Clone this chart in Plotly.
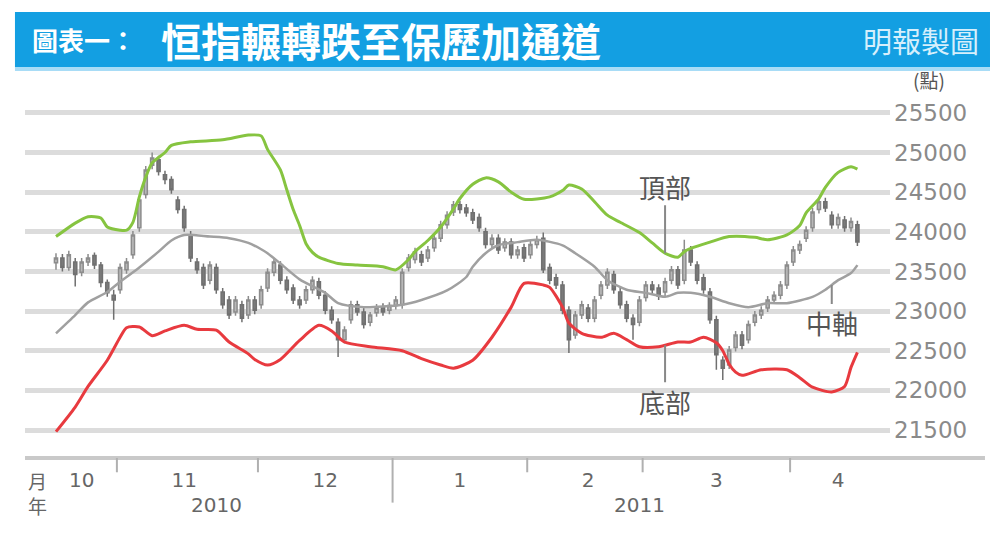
import pandas as pd
import plotly.graph_objects as go

# ---------------- data ----------------
holidays = ["2010-12-27", "2010-12-28", "2011-02-03", "2011-02-04", "2011-04-05"]
dates = [d for d in pd.bdate_range("2010-10-18", "2011-04-18").strftime("%Y-%m-%d") if d not in holidays]

c_open = [23610, 23670, 23550, 23620, 23490, 23620, 23700, 23580, 23360, 23200,
          23270, 23520, 23710, 24050, 24470, 24840, 24910, 24720, 24660, 24400,
          24280, 23960, 23620, 23550, 23390, 23550, 23240, 23140, 22990, 23080,
          22950, 23140, 23080, 23290, 23490, 23580, 23390, 23290, 23140, 23140,
          23270, 23370, 23200, 23010, 22860, 22640, 22890, 23080, 22990, 22860,
          22980, 23050, 23010, 23070, 23080, 23550, 23650, 23710, 23670, 23800,
          23920, 24090, 24250, 24340, 24300, 24240, 24180, 24000, 23840, 23920,
          23800, 23870, 23710, 23800, 23710, 23840, 23920, 23550, 23420, 23330,
          23010, 22700, 22950, 23040, 22910, 23200, 23330, 23460, 23240, 23080,
          22910, 22860, 23170, 23330, 23290, 23240, 23390, 23520, 23390, 23770,
          23580, 23420, 23240, 22890, 22380, 22320, 22540, 22700, 22640, 22860,
          22950, 23040, 23140, 23200, 23330, 23620, 23770, 23920, 24050, 24280,
          24380, 24210, 24090, 24150, 24050, 24090]
c_high = [23730, 23720, 23760, 23670, 23670, 23720, 23740, 23620, 23400, 23270,
          23600, 23670, 24010, 24450, 24830, 25000, 24960, 24770, 24700, 24450,
          24330, 24010, 23670, 23600, 23630, 23600, 23290, 23190, 23190, 23130,
          23190, 23190, 23320, 23540, 23670, 23630, 23440, 23340, 23190, 23320,
          23440, 23420, 23250, 23060, 22910, 22810, 23130, 23130, 23040, 22990,
          23090, 23100, 23110, 23190, 23540, 23720, 23800, 23760, 23820, 23970,
          24140, 24260, 24390, 24390, 24350, 24290, 24230, 24050, 23970, 23970,
          23920, 23920, 23820, 23850, 23890, 23950, 23990, 23600, 23470, 23380,
          23060, 23000, 23130, 23090, 23190, 23380, 23540, 23510, 23290, 23130,
          22960, 23190, 23380, 23380, 23340, 23420, 23570, 23570, 23900, 23820,
          23630, 23470, 23290, 22940, 22430, 22560, 22750, 22750, 22880, 23000,
          23060, 23190, 23250, 23380, 23630, 23820, 23890, 24070, 24300, 24430,
          24430, 24260, 24230, 24200, 24180, 24140]
c_low = [23520, 23500, 23510, 23310, 23440, 23570, 23530, 23300, 23180, 22890,
         23220, 23470, 23660, 24000, 24420, 24790, 24710, 24600, 24480, 24230,
         24000, 23620, 23470, 23280, 23340, 23220, 23030, 22900, 22940, 22860,
         22900, 22960, 23030, 23240, 23440, 23340, 23220, 23090, 23030, 23090,
         23220, 23150, 22960, 22840, 22420, 22590, 22840, 22940, 22780, 22810,
         22930, 22940, 22960, 23020, 23030, 23500, 23600, 23570, 23620, 23750,
         23870, 24040, 24200, 24230, 24190, 24100, 24000, 23790, 23790, 23720,
         23750, 23660, 23660, 23620, 23660, 23790, 23480, 23340, 23280, 22960,
         22470, 22650, 22900, 22860, 22860, 23150, 23280, 23220, 23030, 22860,
         22640, 22810, 23120, 23220, 23140, 23190, 23340, 23280, 23340, 23570,
         23340, 23220, 22840, 22260, 22130, 22270, 22490, 22520, 22590, 22810,
         22900, 22990, 23090, 23150, 23280, 23570, 23720, 23870, 24000, 24230,
         24250, 24040, 24040, 24000, 24000, 23820]
c_close = [23670, 23550, 23710, 23460, 23620, 23670, 23580, 23360, 23230, 23140,
           23550, 23620, 23960, 24400, 24780, 24930, 24760, 24660, 24530, 24280,
           24050, 23670, 23520, 23330, 23580, 23270, 23080, 22950, 23140, 22910,
           23140, 23010, 23270, 23490, 23620, 23390, 23270, 23140, 23080, 23270,
           23390, 23200, 23010, 22890, 22640, 22760, 23080, 22990, 22830, 22950,
           23040, 22990, 23070, 23140, 23490, 23670, 23750, 23620, 23770, 23920,
           24090, 24210, 24340, 24280, 24240, 24150, 24050, 23840, 23920, 23770,
           23870, 23710, 23770, 23670, 23840, 23900, 23520, 23390, 23330, 23010,
           22640, 22950, 23080, 22910, 23140, 23330, 23490, 23270, 23080, 22910,
           22830, 23140, 23330, 23270, 23190, 23370, 23520, 23330, 23770, 23620,
           23390, 23270, 22890, 22450, 22280, 22510, 22700, 22570, 22830, 22950,
           23010, 23140, 23200, 23330, 23580, 23770, 23840, 24020, 24250, 24380,
           24300, 24090, 24180, 24050, 24130, 23870]

upper_dates = ["2010-10-18", "2010-10-21", "2010-10-25", "2010-10-27", "2010-10-28", "2010-11-01",
               "2010-11-02", "2010-11-03", "2010-11-04", "2010-11-05", "2010-11-08", "2010-11-10",
               "2010-11-11", "2010-11-16", "2010-11-23", "2010-11-29", "2010-12-01", "2010-12-02",
               "2010-12-06", "2010-12-07", "2010-12-08", "2010-12-09", "2010-12-10", "2010-12-13",
               "2010-12-14", "2010-12-17", "2010-12-22", "2010-12-30", "2011-01-03", "2011-01-05",
               "2011-01-06", "2011-01-10", "2011-01-12", "2011-01-14", "2011-01-17", "2011-01-19",
               "2011-01-21", "2011-01-25", "2011-01-27", "2011-01-31", "2011-02-08", "2011-02-10",
               "2011-02-11", "2011-02-15", "2011-02-17", "2011-02-21", "2011-02-23", "2011-02-28",
               "2011-03-02", "2011-03-04", "2011-03-08", "2011-03-09", "2011-03-10", "2011-03-15",
               "2011-03-18", "2011-03-24", "2011-03-28", "2011-03-31", "2011-04-04", "2011-04-06",
               "2011-04-08", "2011-04-11", "2011-04-13", "2011-04-15", "2011-04-18"]
upper_vals = [23940, 24110, 24190, 24175, 24060, 24020,
              24020, 24120, 24440, 24690, 24870, 25000,
              25090, 25135, 25160, 25220, 25210, 25040,
              24780, 24530, 24280, 24080, 23850, 23740,
              23680, 23600, 23580, 23560, 23520, 23650,
              23750, 23890, 24060, 24290, 24420, 24600,
              24680, 24630, 24500, 24410, 24440, 24520,
              24590, 24540, 24380, 24210, 24120, 23990,
              23860, 23730, 23680, 23750, 23790, 23870,
              23940, 23930, 23900, 23960, 24080, 24240,
              24420, 24560, 24750, 24820, 24790]

lower_dates = ["2010-10-18", "2010-10-21", "2010-10-25", "2010-10-28", "2010-11-01", "2010-11-02",
               "2010-11-04", "2010-11-08", "2010-11-10", "2010-11-15", "2010-11-17", "2010-11-22",
               "2010-11-24", "2010-11-29", "2010-11-30", "2010-12-02", "2010-12-06", "2010-12-09",
               "2010-12-14", "2010-12-16", "2010-12-20", "2010-12-24", "2011-01-04", "2011-01-07",
               "2011-01-12", "2011-01-14", "2011-01-19", "2011-01-24", "2011-01-27", "2011-01-31",
               "2011-02-07", "2011-02-08", "2011-02-10", "2011-02-11", "2011-02-15", "2011-02-18",
               "2011-02-22", "2011-02-24", "2011-02-28", "2011-03-03", "2011-03-08", "2011-03-10",
               "2011-03-14", "2011-03-16", "2011-03-17", "2011-03-18", "2011-03-21", "2011-03-22",
               "2011-03-25", "2011-03-31", "2011-04-04", "2011-04-07", "2011-04-12", "2011-04-14",
               "2011-04-15", "2011-04-18"]
lower_vals = [21480, 21790, 22050, 22380, 22670, 22790,
              22800, 22690, 22750, 22820, 22770, 22760,
              22610, 22460, 22390, 22320, 22390, 22630,
              22820, 22750, 22610, 22550, 22500, 22400,
              22320, 22280, 22380, 22670, 23050, 23350,
              23330, 23300, 23050, 22850, 22720, 22670,
              22720, 22640, 22550, 22550, 22610, 22610,
              22670, 22600, 22500, 22330, 22230, 22190,
              22260, 22260, 22160, 22040, 21980, 22050,
              22290, 22480]

mid_dates = ["2010-10-18", "2010-10-21", "2010-10-25", "2010-10-28", "2010-11-01", "2010-11-04",
             "2010-11-09", "2010-11-11", "2010-11-15", "2010-11-19", "2010-11-24", "2010-11-29",
             "2010-12-01", "2010-12-02", "2010-12-06", "2010-12-09", "2010-12-15", "2010-12-17",
             "2010-12-23", "2011-01-04", "2011-01-07", "2011-01-13", "2011-01-18", "2011-01-19",
             "2011-01-21", "2011-01-25", "2011-01-28", "2011-02-02", "2011-02-10", "2011-02-14",
             "2011-02-17", "2011-02-21", "2011-02-24", "2011-03-01", "2011-03-04", "2011-03-08",
             "2011-03-10", "2011-03-15", "2011-03-18", "2011-03-23", "2011-03-28", "2011-03-31",
             "2011-04-07", "2011-04-11", "2011-04-13", "2011-04-15", "2011-04-18"]
mid_vals = [22720, 22950, 23110, 23240, 23370, 23550,
            23750, 23890, 23960, 23940, 23920, 23860,
            23780, 23730, 23600, 23400, 23230, 23100,
            23050, 23080, 23140, 23260, 23430, 23560,
            23730, 23830, 23870, 23900, 23830, 23730,
            23560, 23390, 23270, 23230, 23180, 23230,
            23230, 23180, 23100, 23050, 23100, 23100,
            23180, 23270, 23390, 23480, 23580]

y_ticks = [21500, 22000, 22500, 23000, 23500, 24000, 24500, 25000, 25500]
month_label_dates = ["2010-10-22", "2010-11-15", "2010-12-15", "2011-01-17", "2011-02-16", "2011-03-16", "2011-04-13"]
month_labels = ["10", "11", "12", "1", "2", "3", "4"]
month_bounds = ["2010-10-29 12:00", "2010-11-30 12:00", "2011-01-31 12:00", "2011-02-28 12:00", "2011-03-31 12:00"]
year_sep = "2010-12-31 12:00"
year_label_dates = ["2010-11-22", "2011-02-28"]
year_labels = ["2010", "2011"]

# ---------------- figure ----------------
CJK = "Noto Sans CJK TC"
fig = go.Figure()

fig.add_trace(go.Scatter(x=upper_dates, y=upper_vals, mode="lines",
                         line=dict(color="#86c440", width=3, shape="spline", smoothing=0.7)))
fig.add_trace(go.Scatter(x=lower_dates, y=lower_vals, mode="lines",
                         line=dict(color="#e83a3f", width=3, shape="spline", smoothing=0.7)))
fig.add_trace(go.Scatter(x=mid_dates, y=mid_vals, mode="lines",
                         line=dict(color="#a0a0a0", width=2.5, shape="spline", smoothing=0.7)))
fig.add_trace(go.Candlestick(x=dates, open=c_open, high=c_high, low=c_low, close=c_close,
                             increasing=dict(line=dict(color="#8c8c8c", width=1.5), fillcolor="#b8b8b8"),
                             decreasing=dict(line=dict(color="#707070", width=1.5), fillcolor="#7a7a7a"),
                             whiskerwidth=0))

shapes = []
# title band
shapes.append(dict(type="rect", xref="paper", yref="paper", x0=-0.0116, x1=1.1156, y0=1.0952, y1=1.2493,
                   fillcolor="#139fe2", line=dict(width=0), layer="above"))
shapes.append(dict(type="rect", xref="paper", yref="paper", x0=-0.0116, x1=1.1156, y0=1.0840, y1=1.0952,
                   fillcolor="#a8dcf6", line=dict(width=0), layer="above"))
# bottom axis line
shapes.append(dict(type="line", xref="paper", yref="paper", x0=0, x1=1.1098, y0=0, y1=0,
                   line=dict(color="#c9c9c9", width=4)))
for b in month_bounds:
    shapes.append(dict(type="line", xref="x", yref="paper", x0=b, x1=b, y0=0, y1=-0.04,
                       line=dict(color="#b0b0b0", width=2)))
shapes.append(dict(type="line", xref="x", yref="paper", x0=year_sep, x1=year_sep, y0=0, y1=-0.125,
                   line=dict(color="#b0b0b0", width=2)))

annotations = []
annotations.append(dict(xref="paper", yref="paper", x=0.006, y=1.171, xanchor="left", yanchor="middle",
                        text="<b>圖表一：</b>", showarrow=False,
                        font=dict(family=CJK, size=26, color="white")))
annotations.append(dict(xref="paper", yref="paper", x=0.155, y=1.171, xanchor="left", yanchor="middle",
                        text="<b>恒指輾轉跌至保歷加通道</b>", showarrow=False,
                        font=dict(family=CJK, size=40, color="white")))
annotations.append(dict(xref="paper", yref="paper", x=1.105, y=1.171, xanchor="right", yanchor="middle",
                        text="明報製圖", showarrow=False,
                        font=dict(family=CJK, size=29, color="#d6effc")))
annotations.append(dict(xref="paper", yref="paper", x=1.045, y=1.06, xanchor="center", yanchor="middle",
                        text="(點)", showarrow=False,
                        font=dict(family=CJK, size=19, color="#555555")))
# x labels
annotations.append(dict(xref="paper", yref="paper", x=0.015, y=-0.062, xanchor="center", yanchor="middle",
                        text="月", showarrow=False, font=dict(family=CJK, size=19, color="#666666")))
annotations.append(dict(xref="paper", yref="paper", x=0.015, y=-0.133, xanchor="center", yanchor="middle",
                        text="年", showarrow=False, font=dict(family=CJK, size=19, color="#666666")))
for d, t in zip(year_label_dates, year_labels):
    annotations.append(dict(xref="x", yref="paper", x=d, y=-0.133, xanchor="center", yanchor="middle",
                            text=t, showarrow=False, font=dict(family="DejaVu Sans", size=20, color="#666666")))
# band labels
lab_font = dict(family=CJK, size=26, color="#555555")
annotations.append(dict(x="2011-03-04", y=23730, text="頂部", showarrow=True, arrowhead=0,
                        arrowcolor="#888888", arrowwidth=2, ax=0, ay=-67, font=lab_font, borderpad=0))
annotations.append(dict(x="2011-03-04", y=22570, text="底部", showarrow=True, arrowhead=0,
                        arrowcolor="#888888", arrowwidth=2, ax=0, ay=56, font=lab_font, borderpad=0))
annotations.append(dict(x="2011-04-12", y=23330, text="中軸", showarrow=True, arrowhead=0,
                        arrowcolor="#888888", arrowwidth=2, ax=0, ay=38, font=lab_font, borderpad=0))

# figure is drawn inside the page's default 8px body margin
fig.update_layout(
    width=994, height=532,
    margin=dict(l=17, r=112, t=93, b=82),
    paper_bgcolor="white", plot_bgcolor="white",
    showlegend=False,
    shapes=shapes, annotations=annotations,
    xaxis=dict(
        type="date",
        range=["2010-10-11 04:00", "2011-04-25 02:00"],
        rangebreaks=[dict(bounds=["sat", "mon"]), dict(values=holidays)],
        rangeslider=dict(visible=False),
        showgrid=False, zeroline=False, showline=False,
        tickmode="array", tickvals=month_label_dates, ticktext=month_labels,
        ticks="", tickfont=dict(family="DejaVu Sans", size=20, color="#666666"),
        ticklabelstandoff=8,
    ),
    yaxis=dict(
        range=[21147, 25650], side="right",
        tickmode="array", tickvals=y_ticks, ticktext=[str(v) for v in y_ticks],
        showgrid=True, gridcolor="#dcdcdc", gridwidth=5,
        zeroline=False, showline=False, ticks="",
        tickfont=dict(family="DejaVu Sans", size=23, color="#8a8a8a"),
        ticklabelstandoff=3,
    ),
)

fig.write_html("out.html")
